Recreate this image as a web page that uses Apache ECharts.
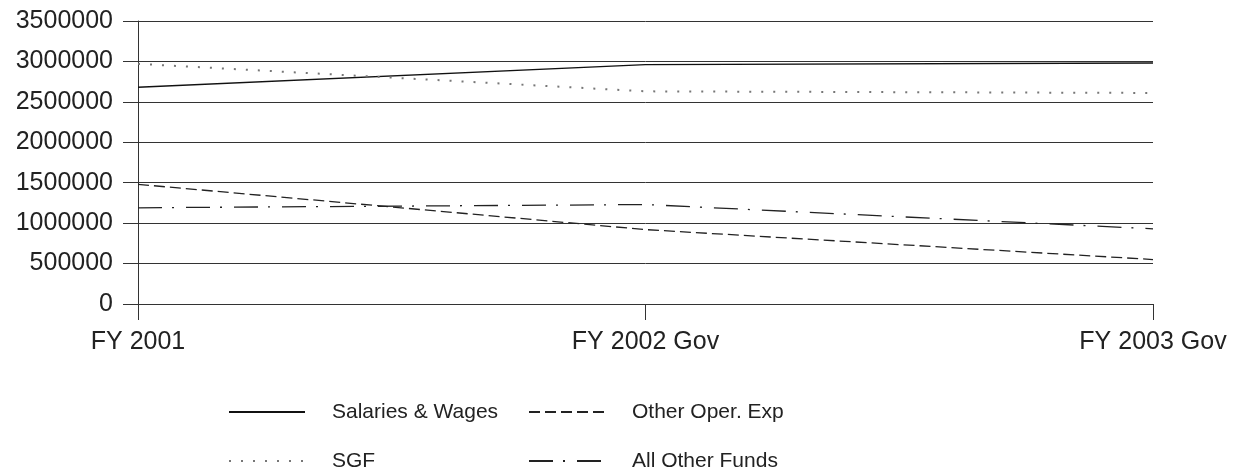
<!DOCTYPE html>
<html>
<head>
<meta charset="utf-8">
<script src="https://cdn.jsdelivr.net/npm/echarts@6/dist/echarts.min.js"></script>
<style>
html,body{margin:0;padding:0;background:#fff;}
#chart{width:1242px;height:470px;}
</style>
</head>
<body>
<div id="chart"></div>
<script>
var categories = ['FY 2001', 'FY 2002 Gov', 'FY 2003 Gov'];
var salariesWages = [2680000, 2960000, 2980000];
var sgf = [2970000, 2630000, 2610000];
var otherOperExp = [1480000, 920000, 550000];
var allOtherFunds = [1190000, 1230000, 930000];
var yTicks = { min: 0, max: 3500000, interval: 500000 };

var FONT = "'Liberation Sans', Arial, sans-serif";
var INK = '#222';

function legendAt(name, left, top) {
  return {
    data: [name],
    orient: 'vertical',
    left: left,
    top: top,
    itemWidth: 76,
    itemHeight: 14,
    padding: 0,
    selectedMode: false,
    itemStyle: { opacity: 0 },
    textStyle: { fontFamily: FONT, fontSize: 21, color: INK, padding: [0, 0, 0, 22], lineHeight: 24 }
  };
}

var chart = echarts.init(document.getElementById('chart'), null, { renderer: 'canvas' });
chart.setOption({
  animation: false,
  backgroundColor: '#fff',
  grid: { left: 138, right: 89, top: 21, bottom: 166, containLabel: false },
  legend: [
    legendAt('Salaries & Wages', 228, 400),
    legendAt('SGF', 228, 449),
    legendAt('Other Oper. Exp', 528, 400),
    legendAt('All Other Funds', 528, 449)
  ],
  xAxis: {
    type: 'category',
    data: categories,
    boundaryGap: false,
    axisLine: { show: true, lineStyle: { color: '#333', width: 1 } },
    axisTick: { show: true, length: 16, lineStyle: { color: '#333' } },
    axisLabel: { interval: 0, fontFamily: FONT, fontSize: 25, color: INK, margin: 26 },
    splitLine: { show: false }
  },
  yAxis: {
    type: 'value',
    min: yTicks.min,
    max: yTicks.max,
    interval: yTicks.interval,
    axisLine: { show: true, lineStyle: { color: '#333', width: 1 } },
    axisTick: { show: true, length: 15, lineStyle: { color: '#333' } },
    axisLabel: { fontFamily: FONT, fontSize: 25, color: INK, margin: 25,
      formatter: function (v) { return String(v); } },
    splitLine: { show: true, lineStyle: { color: '#333', width: 1 } }
  },
  series: [
    { name: 'Salaries & Wages', type: 'line', data: salariesWages, symbol: 'none',
      lineStyle: { color: '#111', width: 1.4, type: 'solid' }, itemStyle: { color: '#111' } },
    { name: 'SGF', type: 'line', data: sgf, symbol: 'none',
      lineStyle: { color: '#777', width: 2, type: [2, 10] }, itemStyle: { color: '#777' } },
    { name: 'Other Oper. Exp', type: 'line', data: otherOperExp, symbol: 'none',
      lineStyle: { color: '#222', width: 1.3, type: [11, 5] }, itemStyle: { color: '#222' } },
    { name: 'All Other Funds', type: 'line', data: allOtherFunds, symbol: 'none',
      lineStyle: { color: '#222', width: 1.3, type: [24, 10, 2, 12] }, itemStyle: { color: '#222' } }
  ]
});
</script>
</body>
</html>
